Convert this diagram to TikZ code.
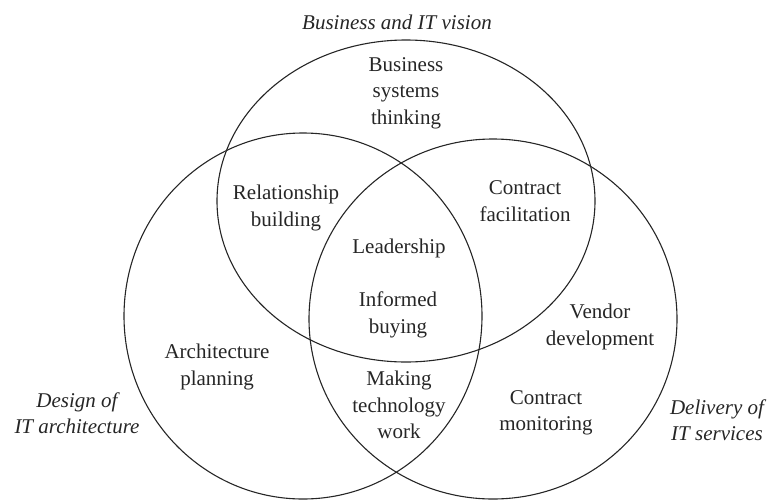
\documentclass[tikz,border=0pt]{standalone}
\usepackage{fontspec}
\setmainfont{Liberation Serif}
\begin{document}
\begin{tikzpicture}[
  x=1pt, y=-1pt,
  set/.style={draw=black!85, line width=1.1pt},
  area/.style={align=center, font=\fontsize{21}{26.5}\selectfont, text=black!85, inner sep=0pt},
  realm/.style={area, font=\fontsize{21}{26.5}\selectfont\itshape},
]
\useasboundingbox (0,0) rectangle (772,501);

% --- the three domains ---
\draw[set] (406,201) ellipse [x radius=189pt, y radius=161pt];
\draw[set] (303,316) ellipse [x radius=179pt, y radius=183pt];
\draw[set] (493,319) ellipse [x radius=184pt, y radius=180pt];

% --- domain titles ---
\node[realm] (vision) at (397,22) {Business and IT vision};
\node[realm] (design) at (77,413) {Design of\\IT architecture};
\node[realm] (delivery) at (717,420) {Delivery of\\IT services};

% --- capabilities ---
\node[area] (bst) at (406,93) {Business\\systems\\thinking};
\node[area] (rel) at (286,208) {Relationship\\building};
\node[area] (cfac) at (525,201) {Contract\\facilitation};
\node[area] (lead) at (399,248) {Leadership};
\node[area] (buy) at (398,315) {Informed\\buying};
\node[area] (vend) at (600,327) {Vendor\\development};
\node[area] (arch) at (217,367) {Architecture\\planning};
\node[area] (tech) at (399,405) {Making\\technology\\work};
\node[area] (cmon) at (546,413) {Contract\\monitoring};

\end{tikzpicture}
\end{document}
